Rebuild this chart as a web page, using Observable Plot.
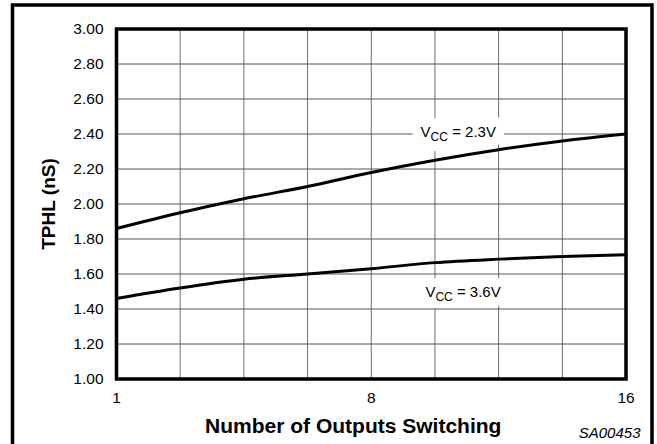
<!DOCTYPE html>
<html>
<head>
<meta charset="utf-8">
<script src="https://cdn.jsdelivr.net/npm/d3@7"></script>
<script src="https://cdn.jsdelivr.net/npm/@observablehq/plot@0.6"></script>
<style>
  html, body { margin: 0; padding: 0; background: white; }
</style>
</head>
<body>
<div id="chart"></div>
<script>
// x positions read at the vertical gridlines (axis: 1 .. 8 .. 16)
const outputs = [1, 2.75, 4.5, 6.25, 8, 10, 12, 14, 16];
const tphl23 = [1.86, 1.95, 2.03, 2.10, 2.18, 2.25, 2.31, 2.36, 2.40];
const tphl36 = [1.46, 1.52, 1.57, 1.60, 1.63, 1.665, 1.685, 1.70, 1.71];
const xTicks = [1, 8, 16];
const yTicks = [1.0, 1.2, 1.4, 1.6, 1.8, 2.0, 2.2, 2.4, 2.6, 2.8, 3.0];
const gridX = outputs;
const seriesNames = ["VCC = 2.3V", "VCC = 3.6V"];
const labelX = [9.55, 9.7];
const labelY = [2.409, 1.494];

const data = [
  ...outputs.map((x, i) => ({series: seriesNames[0], x, y: tphl23[i]})),
  ...outputs.map((x, i) => ({series: seriesNames[1], x, y: tphl36[i]}))
];
const label23 = [{x: labelX[0], y: labelY[0], text: seriesNames[0]}];
const label36 = [{x: labelX[1], y: labelY[1], text: seriesNames[1]}];

const W = 657, H = 444;
const mL = 116, mR = 31.5, mT = 28.5, mB = 65.5;
const x0 = mL, x2 = W - mR, x1 = (x0 + x2) / 2;
const font = "'Liberation Sans', Arial, Helvetica, sans-serif";

const labelOpts = {x: "x", y: "y", text: "text", textAnchor: "start", lineAnchor: "middle", fontSize: 15};

const chart = Plot.plot({
  width: W,
  height: H,
  marginLeft: mL,
  marginRight: mR,
  marginTop: mT,
  marginBottom: mB,
  style: {fontFamily: font, background: "white", color: "black"},
  x: {type: "linear", domain: [1, 8, 16], range: [x0, x1, x2]},
  y: {domain: [1, 3]},
  marks: [
    Plot.ruleX(gridX, {stroke: "#6a6a6a", strokeWidth: 1}),
    Plot.text(label36, {...labelOpts, fill: "white", stroke: "white", strokeWidth: 18, strokeLinejoin: "round"}),
    Plot.ruleY(yTicks, {stroke: "#555", strokeWidth: 1}),
    Plot.text(label23, {...labelOpts, fill: "white", stroke: "white", strokeWidth: 20, strokeLinejoin: "round"}),
    Plot.text([...label23, ...label36], {...labelOpts, fill: "black"}),
    Plot.line(data, {x: "x", y: "y", z: "series", stroke: "black", strokeWidth: 3, curve: "monotone-x"}),
    Plot.frame({stroke: "black", strokeWidth: 3.5}),
    Plot.axisX({ticks: xTicks, tickSize: 0, tickPadding: 13, fontSize: 15.5, label: null, tickFormat: d => String(d)}),
    Plot.axisY({ticks: yTicks, tickSize: 0, tickPadding: 13, fontSize: 15.5, label: null, tickFormat: d3.format(".2f")}),
    Plot.text(["TPHL (nS)"], {frameAnchor: "left", textAnchor: "middle", rotate: -90, dx: -68, fontSize: 19, fontWeight: "bold", lineAnchor: "middle"}),
    Plot.text(["Number of Outputs Switching"], {frameAnchor: "bottom", dx: -18, dy: 46.8, fontSize: 21, fontWeight: "bold", lineAnchor: "middle"}),
    Plot.text(["SA00453"], {frameAnchor: "bottom-right", textAnchor: "end", dx: 14.5, dy: 53.7, fontSize: 15, fontStyle: "italic", lineAnchor: "middle"})
  ]
});

// subscript "CC" in the VCC labels
d3.select(chart).selectAll("text").each(function() {
  const t = this.textContent;
  if (t.startsWith("VCC")) {
    const rest = t.slice(3);
    const sel = d3.select(this);
    sel.text("");
    sel.append("tspan").text("V");
    sel.append("tspan").attr("font-size", 12).attr("dy", 4).text("CC");
    sel.append("tspan").attr("dy", -4).text(rest);
  }
});

// outer border of the figure
d3.select(chart).append("rect")
  .attr("x", 12.5).attr("y", 5).attr("width", 639.5).attr("height", 460)
  .attr("fill", "none").attr("stroke", "black").attr("stroke-width", 3.5);

document.getElementById("chart").appendChild(chart);
</script>
</body>
</html>
